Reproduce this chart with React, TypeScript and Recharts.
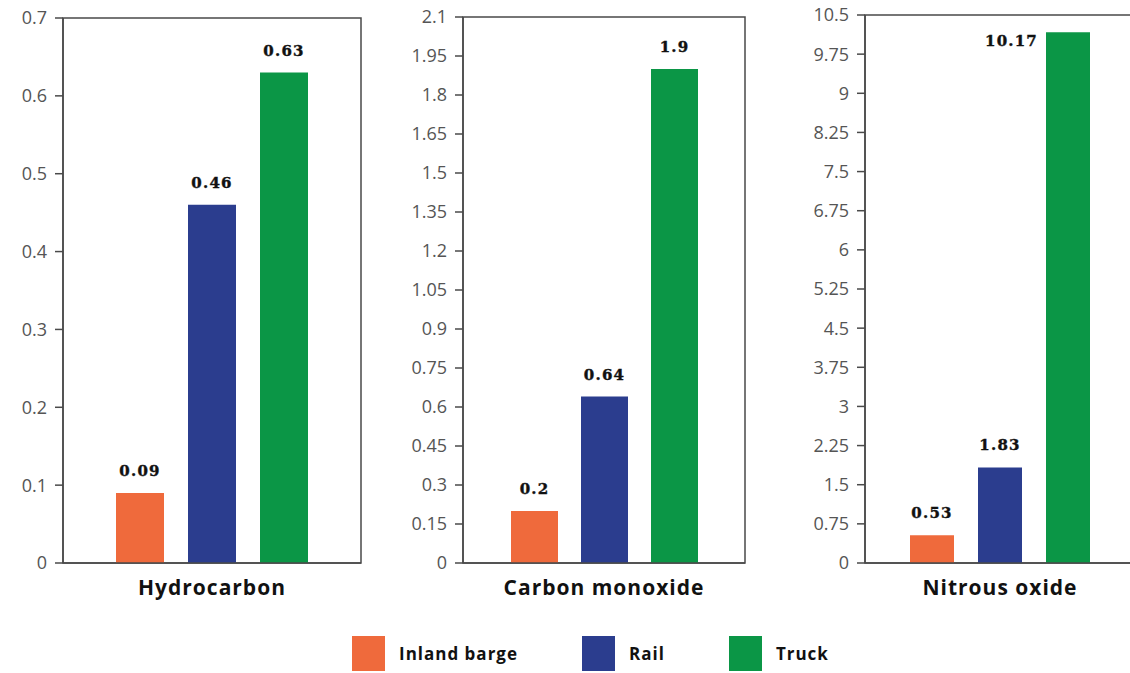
import { Bar, BarChart, LabelList, ReferenceArea, XAxis, YAxis } from 'recharts';

const seriesNames = ['Inland barge', 'Rail', 'Truck'];
const seriesKeys = ['barge', 'rail', 'truck'];
const seriesColors = ['#ef6a3c', '#2b3d8e', '#0b9646'];

const pollutants = ['Hydrocarbon', 'Carbon monoxide', 'Nitrous oxide'];
const bargeValues = [0.09, 0.2, 0.53];
const railValues = [0.46, 0.64, 1.83];
const truckValues = [0.63, 1.9, 10.17];

const hydrocarbonTicks = [0, 0.1, 0.2, 0.3, 0.4, 0.5, 0.6, 0.7];
const carbonTicks = [0, 0.15, 0.3, 0.45, 0.6, 0.75, 0.9, 1.05, 1.2, 1.35, 1.5, 1.65, 1.8, 1.95, 2.1];
const nitrousTicks = [0, 0.75, 1.5, 2.25, 3, 3.75, 4.5, 5.25, 6, 6.75, 7.5, 8.25, 9, 9.75, 10.5];

const axisColor = '#4a4a4a';
const sans = '"Open Sans", "Noto Sans", sans-serif';

// position of each small chart on the page
const panels = [
  { ticks: hydrocarbonTicks, left: 0, top: 18, width: 366, barSize: 48, barGap: 24 },
  { ticks: carbonTicks, left: 400, top: 17, width: 350, barSize: 47, barGap: 23 },
  { ticks: nitrousTicks, left: 802, top: 15, width: 338, barSize: 44, barGap: 24 },
];

function makeLabel(plotTop: number) {
  return function ValueLabel(props: any) {
    const { x, y, width, value } = props;
    const style = {
      fontFamily: '"DejaVu Serif", serif',
      fontWeight: 700,
      fontSize: 15,
      letterSpacing: 1.2,
      fill: '#111',
      stroke: '#111',
      strokeWidth: 0.4,
    };
    // no room above the bar: put the number beside it
    if (y - plotTop < 30) {
      return (
        <text x={x - 8} y={y + 9} textAnchor="end" dominantBaseline="central" style={style}>
          {value}
        </text>
      );
    }
    return (
      <text x={x + width / 2} y={y - 17} textAnchor="middle" style={style}>
        {value}
      </text>
    );
  };
}

function Panel({ index }: { index: number }) {
  const p = panels[index];
  const data = [
    {
      name: pollutants[index],
      barge: bargeValues[index],
      rail: railValues[index],
      truck: truckValues[index],
    },
  ];
  const max = p.ticks[p.ticks.length - 1];
  const line = { stroke: axisColor, strokeWidth: 1.5 };
  const Label = makeLabel(p.top);

  return (
    <div style={{ position: 'absolute', left: p.left, top: 0 }}>
      <BarChart
        width={p.width}
        height={620}
        data={data}
        margin={{ top: p.top, right: 5, bottom: 17, left: 0 }}
        barSize={p.barSize}
        barGap={p.barGap}
      >
        <ReferenceArea y1={0} y2={max} fill="none" stroke={axisColor} strokeWidth={1.5} fillOpacity={0} />
        <XAxis
          dataKey="name"
          height={40}
          tickLine={false}
          tickSize={0}
          tickMargin={17}
          axisLine={line}
          interval={0}
          tick={{ fill: '#111', fontSize: 21, fontWeight: 700, fontFamily: sans, letterSpacing: 1 }}
        />
        <YAxis
          domain={[0, max]}
          ticks={p.ticks}
          interval={0}
          width={63}
          tickSize={8}
          tickMargin={8}
          axisLine={line}
          tickLine={line}
          tick={{ fill: '#555', fontSize: 18, fontFamily: sans }}
        />
        {seriesKeys.map((key, i) => (
          <Bar key={key} dataKey={key} name={seriesNames[i]} fill={seriesColors[i]} isAnimationActive={false}>
            <LabelList dataKey={key} content={Label} />
          </Bar>
        ))}
      </BarChart>
    </div>
  );
}

export default function App() {
  return (
    <div
      style={{
        position: 'absolute',
        left: 0,
        top: 0,
        width: 1130,
        height: 673,
        overflow: 'hidden',
        background: '#fff',
      }}
    >
      <Panel index={0} />
      <Panel index={1} />
      <Panel index={2} />
      <div
        style={{
          position: 'absolute',
          left: 352,
          top: 636,
          display: 'flex',
          alignItems: 'center',
          gap: 64,
          fontFamily: sans,
          fontWeight: 700,
          fontSize: 17,
          letterSpacing: 1,
          color: '#111',
        }}
      >
        {seriesNames.map((name, i) => (
          <span key={name} style={{ display: 'flex', alignItems: 'center' }}>
            <span style={{ width: 33, height: 35, background: seriesColors[i], marginRight: 14 }} />
            {name}
          </span>
        ))}
      </div>
    </div>
  );
}
